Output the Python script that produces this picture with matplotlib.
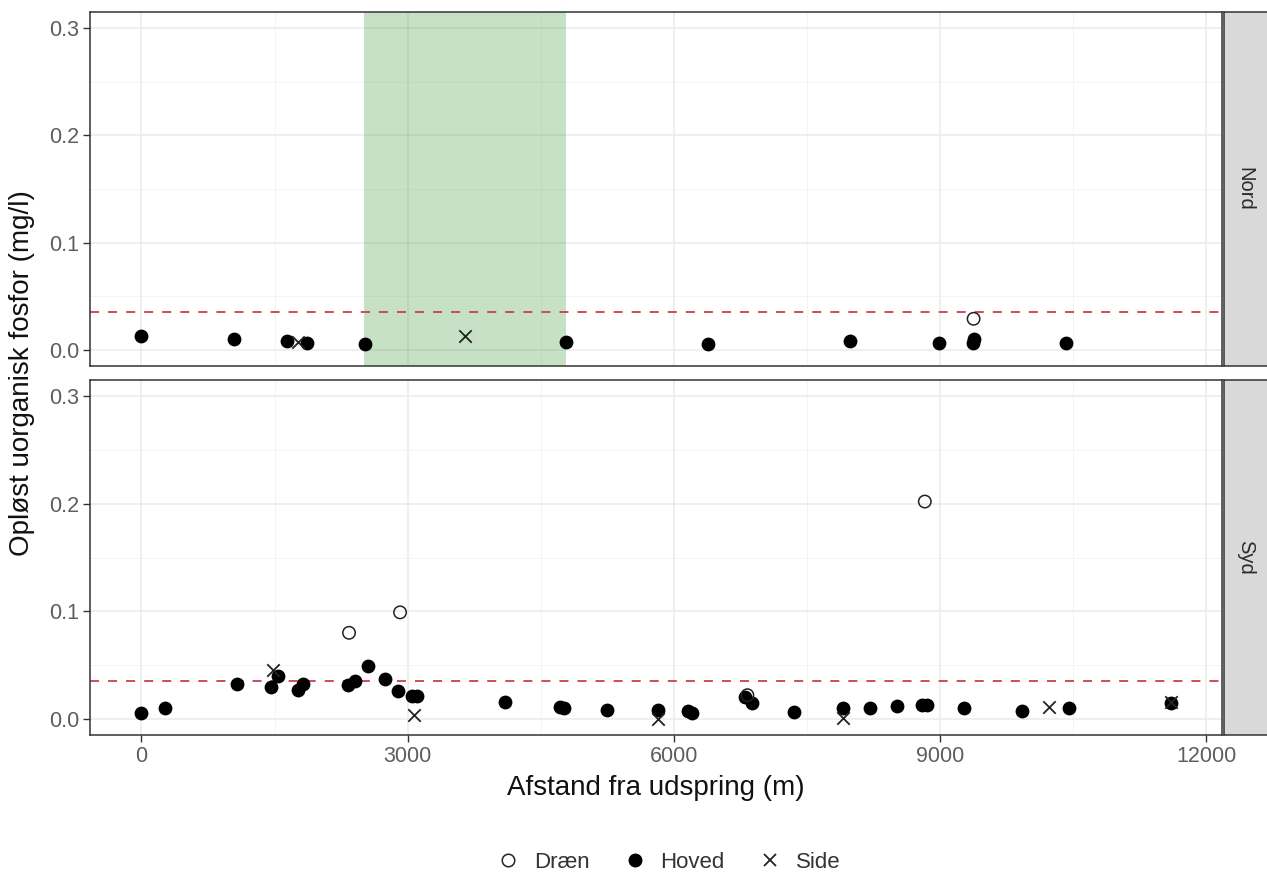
import numpy as np
import matplotlib
matplotlib.use("Agg")
import matplotlib.pyplot as plt
from matplotlib.lines import Line2D

plt.rcParams['font.family'] = ['Liberation Sans', 'DejaVu Sans']

# Nord panel
nord_hoved_x = [0, 1040, 1640, 1870, 2515, 4780, 6390, 7990, 8990, 9370, 9390, 10420]
nord_hoved_y = [0.013, 0.010, 0.0085, 0.0062, 0.0053, 0.0077, 0.0053, 0.0084, 0.0068, 0.006, 0.010, 0.0068]
nord_side_x = [1760, 3650]
nord_side_y = [0.0077, 0.013]
nord_draen_x = [9380]
nord_draen_y = [0.029]

# Syd panel
syd_hoved_x = [0, 270, 1075, 1460, 1540, 1770, 1820, 2325, 2410, 2550, 2745, 2895, 3055, 3105,
               4095, 4720, 4760, 5245, 5825, 6160, 6210, 6800, 6885, 7350, 7905, 8210, 8520,
               8800, 8860, 9275, 9920, 10450, 11600]
syd_hoved_y = [0.0053, 0.010, 0.032, 0.030, 0.040, 0.027, 0.032, 0.0316, 0.0356, 0.049, 0.037, 0.026, 0.021, 0.021,
               0.016, 0.011, 0.010, 0.0084, 0.008, 0.007, 0.005, 0.020, 0.0146, 0.0068, 0.010, 0.010, 0.012,
               0.013, 0.013, 0.0105, 0.0077, 0.0105, 0.015]
syd_side_x = [1480, 3070, 5825, 7905, 10225, 11600]
syd_side_y = [0.0455, 0.0035, 0.0, 0.001, 0.011, 0.016]
syd_draen_x = [2340, 2915, 6830, 8830]
syd_draen_y = [0.080, 0.099, 0.022, 0.202]

graense = 0.035
omraade = (2510, 4780)

W, H = 1267, 877
fig = plt.figure(figsize=(W / 100, H / 100), dpi=100)

def fx(px):
    return px / W

def fy(py):
    return 1 - py / H

def make_panel(top, bottom, label, hx, hy, sx, sy, dx, dy, show_x, rect=None):
    ax = fig.add_axes([fx(90), fy(bottom), fx(1222 - 90), fy(top) - fy(bottom)])
    ax.set_xlim(-580, 12180)
    ax.set_ylim(-0.015, 0.315)
    ax.set_xticks([0, 3000, 6000, 9000, 12000])
    ax.set_xticks([1500, 4500, 7500, 10500], minor=True)
    ax.set_yticks([0.0, 0.1, 0.2, 0.3])
    ax.set_yticks([0.05, 0.15, 0.25], minor=True)
    ax.set_yticklabels(['0.0', '0.1', '0.2', '0.3'])
    ax.grid(True, which='major', color='#EBEBEB', lw=1.1, zorder=0)
    ax.grid(True, which='minor', color='#F2F2F2', lw=0.6, zorder=0)
    ax.set_axisbelow(True)
    for s in ax.spines.values():
        s.set_color('#333333')
        s.set_linewidth(1.1)
    ax.tick_params(which='major', direction='out', length=5, width=1, color='#333333',
                   labelcolor='#5E5E5E', labelsize=15.5, pad=3)
    ax.tick_params(which='minor', length=0)
    if not show_x:
        ax.tick_params(axis='x', labelbottom=False, length=0)
    if rect is not None:
        ax.axvspan(rect[0], rect[1], color='forestgreen', alpha=0.25, lw=0, zorder=1)
    ax.axhline(graense, color='#c8404a', lw=1.3, ls=(0, (5, 5)), zorder=2)
    ax.scatter(hx, hy, s=80, c='black', marker='o', zorder=3)
    ax.scatter(sx, sy, s=80, c='#222222', marker='x', linewidths=1.3, zorder=3)
    ax.scatter(dx, dy, s=80, facecolors='none', edgecolors='#222222', linewidths=1.1, marker='o', zorder=3)

    strip = fig.add_axes([fx(1224), fy(bottom), 1 - fx(1224) + 0.01, fy(top) - fy(bottom)])
    strip.set_facecolor('#D9D9D9')
    strip.set_xticks([])
    strip.set_yticks([])
    for s in strip.spines.values():
        s.set_color('#333333')
        s.set_linewidth(1.1)
    strip.text(0.38, 0.5, label, rotation=-90, ha='center', va='center',
               transform=strip.transAxes, fontsize=14.5, color='#2A2A2A')
    return ax

make_panel(12, 366, 'Nord', nord_hoved_x, nord_hoved_y, nord_side_x, nord_side_y,
           nord_draen_x, nord_draen_y, False, rect=omraade)
make_panel(380, 735, 'Syd', syd_hoved_x, syd_hoved_y, syd_side_x, syd_side_y,
           syd_draen_x, syd_draen_y, True)

fig.text(fx(22), fy(373), 'Opløst uorganisk fosfor (mg/l)', rotation=90,
         ha='center', va='center', fontsize=20, color='#111111')
fig.text(fx(656), fy(788), 'Afstand fra udspring (m)', ha='center', va='center',
         fontsize=20, color='#111111')

handles = [
    Line2D([], [], ls='none', marker='o', mfc='none', mec='#222222', ms=9, mew=1.1),
    Line2D([], [], ls='none', marker='o', mfc='black', mec='black', ms=9),
    Line2D([], [], ls='none', marker='x', mec='#222222', ms=9, mew=1.3),
]
fig.legend(handles, ['Dræn', 'Hoved', 'Side'], loc='center', ncol=3,
           bbox_to_anchor=(fx(666), fy(862)), frameon=False, fontsize=16,
           handletextpad=0.4, columnspacing=1.3, handlelength=1.5,
           labelcolor='#333333')

fig.savefig('out.png', dpi=100)
